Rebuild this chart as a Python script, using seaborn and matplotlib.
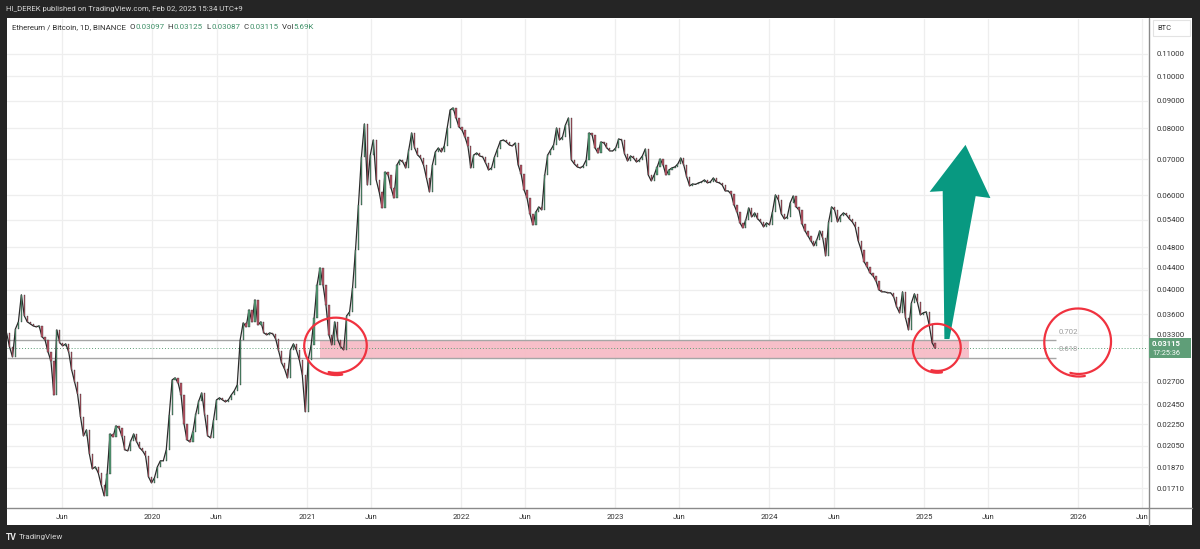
import numpy as np
import pandas as pd
import matplotlib
matplotlib.use("Agg")
import matplotlib.pyplot as plt
import matplotlib.dates as mdates
import matplotlib.ticker as mticker
from matplotlib.patches import Rectangle, Polygon
from matplotlib.lines import Line2D
from matplotlib.transforms import IdentityTransform
import seaborn as sns

# ----------------------------------------
# Values (ETH/BTC, weekly samples of the daily chart)
# ----------------------------------------
week_start = "2019-01-21"
closes = [
    0.03327, 0.03133, 0.03002, 0.03384, 0.03488, 0.03916, 0.03579, 0.03488, 0.03458, 0.03428,
    0.03414, 0.03428, 0.03271, 0.03229, 0.03067, 0.02950, 0.02550, 0.03370, 0.03187, 0.03147,
    0.03174, 0.03067, 0.02839, 0.02697, 0.02561, 0.02321, 0.02139, 0.02195, 0.01980, 0.01857,
    0.01873, 0.01825, 0.01734, 0.01654, 0.01818, 0.02157, 0.02130, 0.02233, 0.02214, 0.02139,
    0.02015, 0.02006, 0.02094, 0.02157, 0.02085, 0.02032, 0.02006, 0.01964, 0.01794, 0.01749,
    0.01786, 0.01873, 0.01922, 0.01922, 0.02015, 0.02341, 0.02720, 0.02743, 0.02685, 0.02550,
    0.02252, 0.02103, 0.02085, 0.02176, 0.02351, 0.02485, 0.02572, 0.02341, 0.02139, 0.02121,
    0.02291, 0.02496, 0.02518, 0.02496, 0.02475, 0.02496, 0.02550, 0.02595, 0.02662, 0.03229,
    0.03473, 0.03414, 0.03672, 0.03488, 0.03833, 0.03443, 0.03488, 0.03327, 0.03299, 0.03327,
    0.03313, 0.03243, 0.03080, 0.02926, 0.02851, 0.02743, 0.03093, 0.03174, 0.03093, 0.02963,
    0.02779, 0.02372, 0.02963, 0.03160, 0.03548, 0.04087, 0.04396, 0.04087, 0.03752, 0.03299,
    0.03160, 0.03488, 0.03229, 0.03133, 0.03093, 0.03579, 0.03641, 0.04035, 0.04749, 0.05759,
    0.07074, 0.08149, 0.06274, 0.07135, 0.07608, 0.06410, 0.06089, 0.05686, 0.06633, 0.06549,
    0.06194, 0.05934, 0.06835, 0.06983, 0.06923, 0.06748, 0.07289, 0.07841, 0.07352, 0.07135,
    0.07043, 0.06835, 0.06465, 0.06089, 0.06835, 0.07227, 0.07352, 0.07227, 0.07415, 0.08010,
    0.08653, 0.08728, 0.08360, 0.08045, 0.07942, 0.07708, 0.07415, 0.06748, 0.07135, 0.07196,
    0.07104, 0.07074, 0.06894, 0.06690, 0.06748, 0.07074, 0.07320, 0.07576, 0.07608, 0.07543,
    0.07447, 0.07415, 0.07511, 0.06835, 0.06577, 0.06141, 0.05934, 0.05541, 0.05286, 0.05589,
    0.05710, 0.05637, 0.06549, 0.07135, 0.07289, 0.07447, 0.08010, 0.07608, 0.07708, 0.08114,
    0.08360, 0.06983, 0.06864, 0.06777, 0.06748, 0.06806, 0.06983, 0.07841, 0.07774, 0.07352,
    0.07196, 0.07543, 0.07511, 0.07352, 0.07258, 0.07258, 0.07352, 0.07641, 0.07608, 0.07165,
    0.06953, 0.07104, 0.07043, 0.06923, 0.06983, 0.07104, 0.07320, 0.06549, 0.06383, 0.06549,
    0.06777, 0.07013, 0.06835, 0.06549, 0.06690, 0.06748, 0.06777, 0.06864, 0.07043, 0.06835,
    0.06493, 0.06248, 0.06301, 0.06288, 0.06329, 0.06356, 0.06410, 0.06329, 0.06356, 0.06465,
    0.06356, 0.06329, 0.06274, 0.06115, 0.06115, 0.06037, 0.05759, 0.05589, 0.05332, 0.05219,
    0.05401, 0.05686, 0.05470, 0.05565, 0.05424, 0.05355, 0.05241, 0.05332, 0.05286, 0.05589,
    0.06011, 0.05884, 0.05541, 0.05424, 0.05470, 0.05809, 0.05985, 0.05710, 0.05637, 0.05309,
    0.05152, 0.05042, 0.04936, 0.04832, 0.04957, 0.05152, 0.04999, 0.04628, 0.05355, 0.05710,
    0.05637, 0.05355, 0.05494, 0.05565, 0.05517, 0.05424, 0.05355, 0.05241, 0.04936, 0.04749,
    0.04511, 0.04415, 0.04303, 0.04248, 0.04158, 0.04001, 0.03967, 0.03967, 0.03950, 0.03950,
    0.03883, 0.03720, 0.03625, 0.03967, 0.03548, 0.03370, 0.03784, 0.03933, 0.03800, 0.03594,
    0.03625, 0.03641, 0.03443, 0.03187, 0.03115,
]
last_ohlc = ["0.03097", "0.03125", "0.03087", "0.03115"]
last_close = 0.03115
last_volume = "5.69K"
countdown = "17:25:36"

price_ticks = [0.0171, 0.0187, 0.0205, 0.0225, 0.0245, 0.027, 0.033, 0.036, 0.04,
               0.044, 0.048, 0.054, 0.06, 0.07, 0.08, 0.09, 0.10, 0.11]
fib_levels = [0.0322, 0.0299]
fib_names = ["0.702", "0.618"]
zone_dates = ["2021-01-31", "2025-04-18"]
fib_line_end = "2025-11-09"
fib_label_date = "2025-11-16"

# hand drawn marks: (date, price) anchors
circles = [("2021-03-11", 0.03147, 30, 27), ("2025-02-01", 0.03120, 23, 23), ("2026-01-01", 0.03201, 32, 32)]
arrow_pts = [("2025-04-09", 0.0745), ("2025-01-14", 0.0609), ("2025-02-14", 0.0611),
             ("2025-02-18", 0.0324), ("2025-03-02", 0.0324), ("2025-05-03", 0.0598),
             ("2025-06-07", 0.0593)]

# ----------------------------------------
# Style
# ----------------------------------------
sns.set_theme(style="white")
plt.rcParams["font.family"] = ["Roboto", "DejaVu Sans"]

W, H = 1200, 549
dark_bg = "#252525"
up_col, down_col, wick_col = "#52a077", "#bd5566", "#2b2b2b"
grid_col = "#eeeeee"
label_col = "#333333"
legend_green = "#3f9068"
price_green = "#5f9e78"
red_ink = "#f0323f"
teal = "#089981"

fig = plt.figure(figsize=(W / 100, H / 100), dpi=100, facecolor=dark_bg)
fig.add_artist(Rectangle((7 / W, 24 / H), 1185 / W, 507 / H, transform=fig.transFigure,
                         fc="white", ec="none", zorder=-1))

ax = fig.add_axes([7 / W, 41 / H, 1141 / W, 489 / H])
ax.set_facecolor("white")
ax.set_yscale("log")
ax.set_xlim(pd.Timestamp("2019-01-22"), pd.Timestamp("2026-06-15"))
ax.set_ylim(0.0157, 0.1278)

# ----------------------------------------
# Candles
# ----------------------------------------
df = pd.DataFrame({"date": pd.date_range(week_start, periods=len(closes), freq="7D"),
                   "close": closes})
df["open"] = df["close"].shift(1).fillna(df["close"].iloc[0])
df["lo"] = df[["open", "close"]].min(axis=1)
df["hi"] = df[["open", "close"]].max(axis=1)
df["up"] = df["close"] >= df["open"]
xs = mdates.date2num(df["date"])

# price trace under the candle bodies
sns.lineplot(data=df, x="date", y="close", ax=ax, color=wick_col, lw=0.9, zorder=3)
for flag, col in [(True, up_col), (False, down_col)]:
    m = (df["up"] == flag).values
    ax.bar(xs[m], (df["hi"] - df["lo"])[m], bottom=df["lo"][m], width=3.0,
           color=col, edgecolor=wick_col, linewidth=0.25, zorder=4)
ax.set_xlabel("")
ax.set_ylabel("")

# ----------------------------------------
# Fib zone and levels
# ----------------------------------------
z0, z1 = mdates.date2num(pd.to_datetime(zone_dates))
ax.add_patch(Rectangle((z0, fib_levels[1]), z1 - z0, fib_levels[0] - fib_levels[1],
                       fc="#f7bcc6", ec="none", alpha=0.95, zorder=2))
x_left = ax.get_xlim()[0]
x_end = mdates.date2num(pd.Timestamp(fib_line_end))
for lvl, name in zip(fib_levels, fib_names):
    ax.hlines(lvl, x_left, x_end, color="#a6a6a6", lw=1.0, zorder=2.5)
    ax.annotate(name, (mdates.date2num(pd.Timestamp(fib_label_date)), lvl), xytext=(0, 6.2),
                textcoords="offset points", fontsize=5.6, color="#9c9c9c", va="center", ha="left")

ax.axhline(last_close, color=price_green, lw=0.7, ls=(0, (1, 2)), zorder=2.6)

# ----------------------------------------
# Axes: ticks, grid
# ----------------------------------------
ax.yaxis.tick_right()
ax.set_yticks(price_ticks)
ax.yaxis.set_major_formatter(mticker.FormatStrFormatter("%.5f"))
ax.yaxis.set_minor_locator(mticker.NullLocator())
ax.yaxis.set_minor_formatter(mticker.NullFormatter())
ax.xaxis.set_major_locator(mdates.MonthLocator(bymonth=[1, 6]))
ax.xaxis.set_major_formatter(mticker.FuncFormatter(
    lambda v, _: str(mdates.num2date(v).year) if mdates.num2date(v).month == 1 else "Jun"))
ax.tick_params(axis="x", length=0, pad=4.2, labelsize=5.6, labelcolor=label_col)
ax.tick_params(axis="y", length=0, pad=6, labelsize=5.6, labelcolor=label_col)
ax.grid(True, color=grid_col, lw=0.9, zorder=0)
ax.set_axisbelow(True)
for s in ax.spines.values():
    s.set_visible(False)

# separators of the chart pane
fig.add_artist(Line2D([7 / W, 1192 / W], [41 / H, 41 / H], transform=fig.transFigure,
                      color="#8a8a8a", lw=1.0, zorder=5))
fig.add_artist(Line2D([1148.5 / W, 1148.5 / W], [24 / H, 531 / H], transform=fig.transFigure,
                      color="#8a8a8a", lw=1.0, zorder=5))

# BTC currency box
fig.add_artist(Rectangle((1153 / W, (H - 36) / H), 37 / W, 16 / H, transform=fig.transFigure,
                         fc="white", ec="#e3e3e3", lw=0.8, zorder=5))
fig.text(1157 / W, 1 - 28.5 / H, "BTC", fontsize=5.4, color=label_col, va="center", zorder=6)

# ----------------------------------------
# Hand drawn marks (anchored to the data, sized in pixels)
# ----------------------------------------
def to_px(d, p):
    return ax.transData.transform((mdates.date2num(pd.Timestamp(d)), p))

for d, p, rx, ry in circles:
    cx, cy = to_px(d, p)
    t = np.linspace(0, 2 * np.pi * 1.07, 140)
    grow = 1 + 0.08 * t / (2 * np.pi)
    ang = -np.pi / 2 - 0.25 + t
    fig.add_artist(Line2D(cx + rx * grow * np.cos(ang), cy + ry * grow * np.sin(ang),
                          transform=IdentityTransform(), color=red_ink, lw=1.6,
                          solid_capstyle="round", zorder=7))

ax.add_patch(Polygon([(mdates.date2num(pd.Timestamp(d)), p) for d, p in arrow_pts],
                     closed=True, fc=teal, ec="none", zorder=6, clip_on=False))

# current price tag
cx, cy = to_px("2025-02-01", last_close)
fig.add_artist(Rectangle((1149, cy - 10), 42, 20, transform=IdentityTransform(),
                         fc=price_green, ec="none", zorder=6))
fig.text(1152 / W, (cy + 4.5) / H, f"{last_close:.5f}", fontsize=5.6, color="white",
         fontweight="bold", va="center", zorder=7)
fig.text(1152 / W, (cy - 5) / H, countdown, fontsize=5.2, color="white", va="center", zorder=7)

# ----------------------------------------
# Header, legend and footer texts
# ----------------------------------------
fig.text(6 / W, 1 - 9 / H, "HI_DEREK published on TradingView.com, Feb 02, 2025 15:34 UTC+9",
         fontsize=5.6, color="#d6d6d6", va="center")

fig.canvas.draw()
renderer = fig.canvas.get_renderer()
legend_parts = [("Ethereum / Bitcoin, 1D, BINANCE", label_col)]
for tag, val in zip(["O", "H", "L", "C"], last_ohlc):
    legend_parts += [("  " + tag, label_col), (val, legend_green)]
legend_parts += [("  Vol", label_col), (last_volume, legend_green)]
xpos = 12
for txt, col in legend_parts:
    t = fig.text(xpos / W, 1 - 27 / H, txt, fontsize=5.7, color=col, va="center")
    xpos += t.get_window_extent(renderer=renderer).width

fig.text(6 / W, 1 - 537 / H, "TV", fontsize=6.2, fontweight="bold", color="#e6e6e6", va="center")
fig.text(19 / W, 1 - 537 / H, "TradingView", fontsize=5.8, color="#d6d6d6", va="center")

fig.savefig("out.png", dpi=100, facecolor=dark_bg)
